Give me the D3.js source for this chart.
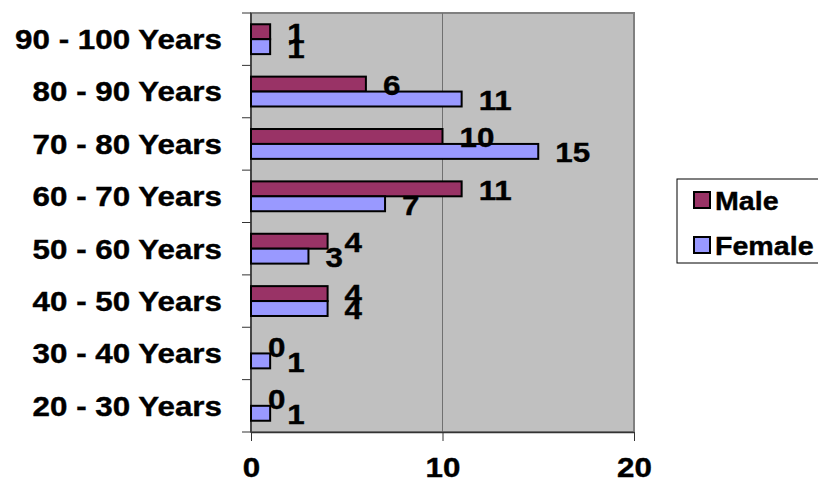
<!DOCTYPE html>
<html>
<head>
<meta charset="utf-8">
<script src="https://cdn.jsdelivr.net/npm/d3@7"></script>
<style>
  body { margin: 0; background: #fff; }
  text { font-family: "Liberation Sans", Arial, sans-serif; font-weight: bold; fill: #000; stroke: #000; stroke-width: 0.4px; }
</style>
</head>
<body>
<div class="chart"></div>
<script>
var categories = ["90 - 100 Years", "80 - 90 Years", "70 - 80 Years", "60 - 70 Years",
                  "50 - 60 Years", "40 - 50 Years", "30 - 40 Years", "20 - 30 Years"];
var maleValues = [1, 6, 10, 11, 4, 4, 0, 0];
var femaleValues = [1, 11, 15, 7, 3, 4, 1, 1];
var seriesNames = ["Male", "Female"];
var seriesColors = ["#993366", "#9999FF"];
var xTicks = [0, 10, 20];

var svgWidth = 818;
var svgHeight = 481;
var plot = { left: 251, top: 13, right: 634, bottom: 432 };
var stretch = 1.12; // text in the picture is a little wider than Arial

var svg = d3.select(".chart")
  .append("svg")
  .attr("width", svgWidth)
  .attr("height", svgHeight);

var x = d3.scaleLinear().domain([0, 20]).range([plot.left, plot.right]);
var y = d3.scaleBand().domain(categories).range([plot.top, plot.bottom]).paddingInner(0.43).paddingOuter(0.215);
var ySub = d3.scaleBand().domain(seriesNames).range([0, y.bandwidth()]);

// plot background
svg.append("rect")
  .attr("x", plot.left).attr("y", plot.top)
  .attr("width", plot.right - plot.left).attr("height", plot.bottom - plot.top)
  .attr("fill", "#C0C0C0")
  .attr("stroke", "#808080")
  .attr("stroke-width", 2);

// vertical gridline
svg.selectAll(".grid")
  .data(xTicks.slice(1, -1))
  .enter().append("line")
  .attr("x1", d => x(d)).attr("x2", d => x(d))
  .attr("y1", plot.top).attr("y2", plot.bottom)
  .attr("stroke", "#707070").attr("stroke-width", 1);

// bottom axis
var bottomAxis = d3.axisBottom(x).tickValues(xTicks).tickSize(9).tickSizeOuter(0).tickFormat(d3.format("d"));
var xAxis = svg.append("g")
  .attr("transform", `translate(0, ${plot.bottom})`)
  .call(bottomAxis);
xAxis.select(".domain").attr("stroke", "#333").attr("stroke-width", 1.5);
xAxis.selectAll(".tick line").attr("stroke", "#333");
xAxis.selectAll(".tick text").remove();
xAxis.selectAll(".tick").append("text")
  .attr("transform", `translate(0, 45) scale(${stretch}, 1)`)
  .attr("text-anchor", "middle")
  .style("font-size", "28px")
  .text(d => d);

// left axis: ticks between categories
var yEdges = d3.range(categories.length + 1).map(i => plot.top + i * (plot.bottom - plot.top) / categories.length);
svg.append("line")
  .attr("x1", plot.left).attr("x2", plot.left)
  .attr("y1", plot.top).attr("y2", plot.bottom)
  .attr("stroke", "#333").attr("stroke-width", 1.5);
svg.selectAll(".ytick")
  .data(yEdges)
  .enter().append("line")
  .attr("x1", plot.left - 9).attr("x2", plot.left)
  .attr("y1", d => d).attr("y2", d => d)
  .attr("stroke", "#333");

// category labels
svg.selectAll(".cat")
  .data(categories)
  .enter().append("text")
  .attr("transform", d => `translate(222, ${y(d) + y.bandwidth() / 2}) scale(${stretch}, 1)`)
  .attr("text-anchor", "end")
  .attr("dominant-baseline", "central")
  .style("font-size", "28px")
  .text(d => d);

// bars
var rows = categories.map((c, i) => ({ cat: c, values: [maleValues[i], femaleValues[i]] }));
var groups = svg.selectAll(".grp")
  .data(rows)
  .enter().append("g")
  .attr("transform", d => `translate(0, ${y(d.cat)})`);

groups.selectAll("rect")
  .data(d => d.values.map((v, j) => ({ name: seriesNames[j], value: v, color: seriesColors[j] })))
  .enter().append("rect")
  .filter(d => d.value > 0)
  .attr("x", x(0))
  .attr("y", d => ySub(d.name))
  .attr("width", d => x(d.value) - x(0))
  .attr("height", ySub.bandwidth())
  .attr("fill", d => d.color)
  .attr("stroke", "#000")
  .attr("stroke-width", 2);

groups.selectAll(".val")
  .data(d => d.values.map((v, j) => ({ name: seriesNames[j], value: v })))
  .enter().append("text")
  .attr("transform", d => `translate(${x(d.value) + 17}, ${ySub(d.name) + ySub.bandwidth() / 2 + 1}) scale(${stretch}, 1)`)
  .attr("dominant-baseline", "central")
  .style("font-size", "28px")
  .text(d => d.value);

// legend
var legend = svg.append("g");
legend.append("rect")
  .attr("x", 677).attr("y", 179)
  .attr("width", 160).attr("height", 84)
  .attr("fill", "#fff")
  .attr("stroke", "#000").attr("stroke-width", 1);
var items = legend.selectAll(".item")
  .data(seriesNames)
  .enter().append("g")
  .attr("transform", (d, i) => `translate(694, ${200 + i * 45})`);
items.append("rect")
  .attr("x", 0).attr("y", -8)
  .attr("width", 16).attr("height", 16)
  .attr("fill", (d, i) => seriesColors[i])
  .attr("stroke", "#000").attr("stroke-width", 2);
items.append("text")
  .attr("transform", `translate(21, 1) scale(1.1, 1)`)
  .attr("dominant-baseline", "central")
  .style("font-size", "26px")
  .text(d => d);
</script>
</body>
</html>
